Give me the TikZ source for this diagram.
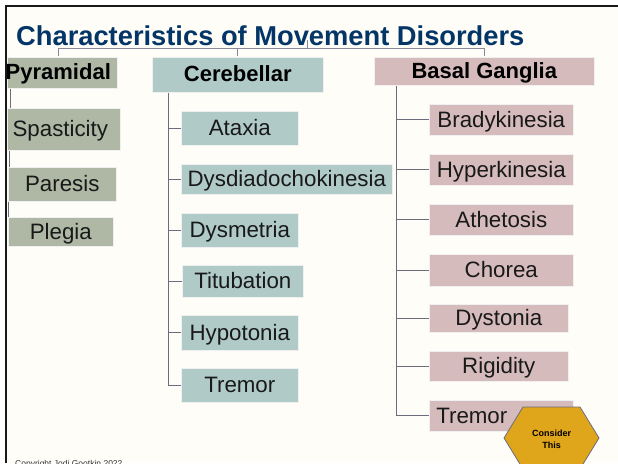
\documentclass[tikz,border=0pt]{standalone}
\usepackage{xcolor}
\usepackage{fontspec}
\setmainfont{Liberation Sans}
\usetikzlibrary{positioning,calc}
\definecolor{fondo}{HTML}{FEFDF8}
\definecolor{azul}{HTML}{033566}
\definecolor{verde}{HTML}{AEB8A5}
\definecolor{aqua}{HTML}{AFCAC7}
\definecolor{rosa}{HTML}{D5BBBC}
\definecolor{oro}{HTML}{DFA51B}
\definecolor{linea}{HTML}{6B6D7D}
\begin{document}
\begin{tikzpicture}[x=1pt,y=-1pt,font=\fontsize{22.3}{24}\selectfont,
  caja/.style={draw=white!70!black!20, line width=0.6pt, anchor=north west, inner sep=0pt, align=center, text=black!90, text height=16pt, text depth=1pt},
  jefe/.style={caja, text=black, font=\fontsize{22}{24}\selectfont\bfseries, text depth=2pt},
  rama/.style={draw=linea, line width=1pt}]
  \useasboundingbox (0,0) rectangle (618,463);
  \fill[white] (0,0) rectangle (618,463);
  \fill[fondo] (6,6) rectangle (618,463);
  \draw[black!90, line width=2.4pt] (6,463) -- (6,6) -- (618,6);
  \node[font=\fontsize{27.3}{30}\selectfont\bfseries, text=azul, anchor=west, inner sep=0pt] (titulo) at (16,35.5) {Characteristics of Movement Disorders};
  \coordinate (arriba) at (307,40);
  \coordinate (bus) at (307,48);
  % columnas
  \node[jefe, fill=verde, minimum width=110pt, minimum height=31pt] (pyramidal) at (7,57) {\makebox[0pt]{Pyramidal\hspace*{8pt}}};
  \node[jefe, fill=aqua, minimum width=171pt, minimum height=35pt] (cerebellar) at (152,57) {Cerebellar};
  \node[jefe, fill=rosa, minimum width=220pt, minimum height=28pt] (basal) at (374,57) {Basal Ganglia};
  \draw[rama, draw=linea!80] (arriba) -- (bus);
  \draw[rama, draw=linea!80] ($(pyramidal.north)+(-4,-1)$) |- (bus);
  \draw[rama, draw=linea!80] ($(cerebellar.north)+(0,-1)$) |- (bus);
  \draw[rama, draw=linea!80] ($(basal.north)+(0,-1)$) |- (bus);
  % piramidal
  \node[caja, fill=verde, minimum width=113pt, minimum height=42pt] (spasticity) at (7,108) {\makebox[0pt]{Spasticity\hspace*{7pt}}};
  \node[caja, fill=verde, minimum width=108pt, minimum height=34pt] (paresis) at (8,167) {Paresis};
  \node[caja, fill=verde, minimum width=105pt, minimum height=29pt] (plegia) at (8,217) {Plegia};
  \draw[rama] (pyramidal.south west -| 10.5,0) -- (spasticity.north west -| 10.5,0);
  \draw[rama] (spasticity.south west -| 9.5,0) -- (paresis.north west -| 9.5,0);
  \draw[rama] (paresis.south west -| 8,0) -- (plegia.north west -| 8,0);
  % cerebelo
  \node[caja, fill=aqua, minimum width=117pt, minimum height=34pt] (ataxia) at (181,111) {Ataxia};
  \node[caja, fill=aqua, minimum width=211pt, minimum height=30pt] (dysdiado) at (181,164) {Dysdiadochokinesia};
  \node[caja, fill=aqua, minimum width=117pt, minimum height=34pt] (dysmetria) at (181,213) {Dysmetria};
  \node[caja, fill=aqua, minimum width=121pt, minimum height=32pt] (titubation) at (182,265) {Titubation};
  \node[caja, fill=aqua, minimum width=117pt, minimum height=35pt] (hypotonia) at (181,315) {Hypotonia};
  \node[caja, fill=aqua, minimum width=117pt, minimum height=34pt] (tremorc) at (181,368) {Tremor};
  \coordinate (troncoc) at (168.5,93);
  \draw[rama] (troncoc) |- (tremorc.west);
  \draw[rama] (ataxia.west) -- (ataxia.west -| troncoc);
  \draw[rama] (dysdiado.west) -- (dysdiado.west -| troncoc);
  \draw[rama] (dysmetria.west) -- (dysmetria.west -| troncoc);
  \draw[rama] (titubation.west) -- (titubation.west -| troncoc);
  \draw[rama] (hypotonia.west) -- (hypotonia.west -| troncoc);
  % ganglios basales
  \node[caja, fill=rosa, minimum width=144pt, minimum height=31pt] (brady) at (429,104) {Bradykinesia};
  \node[caja, fill=rosa, minimum width=144pt, minimum height=31pt] (hyper) at (429,154) {Hyperkinesia};
  \node[caja, fill=rosa, minimum width=144pt, minimum height=31pt] (athetosis) at (429,204) {Athetosis};
  \node[caja, fill=rosa, minimum width=144pt, minimum height=32pt] (chorea) at (429,254) {Chorea};
  \node[caja, fill=rosa, minimum width=139pt, minimum height=28pt] (dystonia) at (429,304) {Dystonia};
  \node[caja, fill=rosa, minimum width=139pt, minimum height=30pt] (rigidity) at (429,351) {Rigidity};
  \node[caja, fill=rosa, minimum width=144pt, minimum height=31pt] (tremorb) at (429,400) {\makebox[0pt]{Tremor\hspace*{59pt}}};
  \coordinate (troncob) at (396,86);
  \draw[rama] (troncob) |- (tremorb.west);
  \draw[rama] (brady.west) -- (brady.west -| troncob);
  \draw[rama] (hyper.west) -- (hyper.west -| troncob);
  \draw[rama] (athetosis.west) -- (athetosis.west -| troncob);
  \draw[rama] (chorea.west) -- (chorea.west -| troncob);
  \draw[rama] (dystonia.west) -- (dystonia.west -| troncob);
  \draw[rama] (rigidity.west) -- (rigidity.west -| troncob);
  % hexagono
  \draw[draw=linea, line width=0.8pt, fill=oro] (504,438) -- (523,407) -- (580,407) -- (599,438) -- (580,469) -- (523,469) -- cycle;
  \node[align=center, inner sep=0pt, font=\fontsize{9}{12}\selectfont\bfseries, text=black] (consider) at (551.5,439) {Consider\\This};
  \node[font=\fontsize{8.5}{9}\selectfont, text=black!80, anchor=west, inner sep=0pt] (copyright) at (15,464.5) {Copyright Jodi Gootkin 2022};
\end{tikzpicture}
\end{document}
